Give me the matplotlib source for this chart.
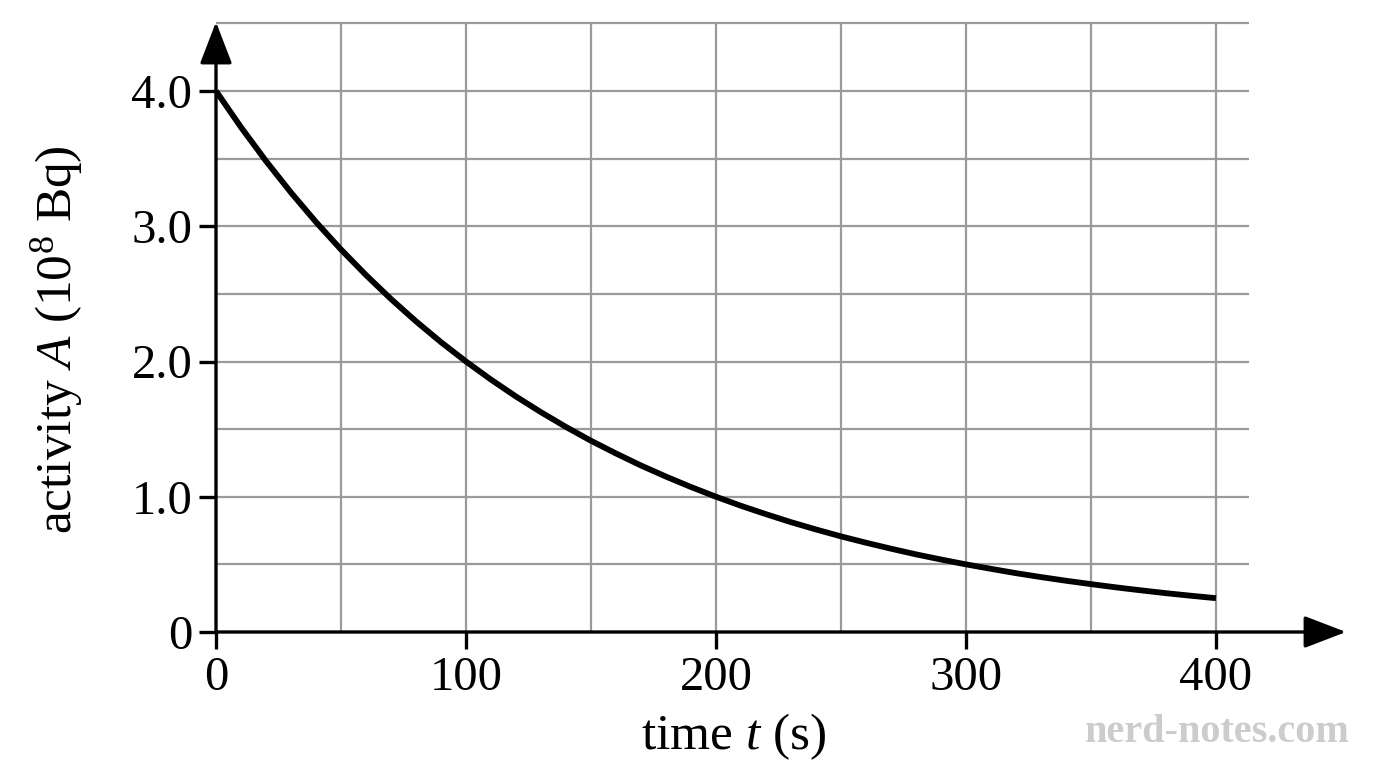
import matplotlib.pyplot as plt

plt.rcParams['font.family'] = ['Liberation Serif', 'DejaVu Serif']
plt.rcParams['mathtext.fontset'] = 'custom'
plt.rcParams['mathtext.rm'] = 'Liberation Serif'
plt.rcParams['mathtext.it'] = 'Liberation Serif:italic'

# activity every 10 s
time_s = [0, 10, 20, 30, 40, 50, 60, 70, 80, 90, 100, 110, 120, 130, 140, 150, 160, 170, 180,
          190, 200, 210, 220, 230, 240, 250, 260, 270, 280, 290, 300, 310, 320, 330, 340, 350,
          360, 370, 380, 390, 400]
activity = [4.0, 3.732, 3.482, 3.249, 3.031, 2.828, 2.639, 2.462, 2.297, 2.143, 2.0, 1.866,
            1.741, 1.625, 1.516, 1.414, 1.320, 1.231, 1.149, 1.072, 1.0, 0.933, 0.871, 0.812,
            0.758, 0.707, 0.660, 0.616, 0.574, 0.536, 0.5, 0.467, 0.435, 0.406, 0.379, 0.354,
            0.330, 0.308, 0.287, 0.268, 0.25]

x_ticks = [0, 100, 200, 300, 400]
x_ticklabels = ['0', '100', '200', '300', '400']
y_ticks = [0, 1, 2, 3, 4]
y_ticklabels = ['0', '1.0', '2.0', '3.0', '4.0']
x_grid = [50, 100, 150, 200, 250, 300, 350, 400]
y_grid = [0.5, 1.0, 1.5, 2.0, 2.5, 3.0, 3.5, 4.0, 4.5]

fig = plt.figure(figsize=(13.76, 7.68), dpi=100)
ax = fig.add_axes([216 / 1376, 136 / 768, 460 * 2.5 / 1376, 4.6 * 135.25 / 768])
ax.set_xlim(0, 460)
ax.set_ylim(0, 4.6)

grid_col = '#9a9a9a'
ax.hlines(y_grid, 0, 413, color=grid_col, lw=1.6, zorder=1)
ax.vlines(x_grid, 0, 4.5, color=grid_col, lw=1.6, zorder=1)

ax.plot(time_s, activity, color='black', lw=4.2, solid_capstyle='butt', zorder=3)

# axes with arrows
head = '-|>,head_length=2.6,head_width=1.0'
ax.annotate('', xy=(452, 0), xytext=(0, 0), annotation_clip=False,
            arrowprops=dict(arrowstyle=head, color='black', lw=2.4, shrinkA=0, shrinkB=0),
            zorder=4)
ax.annotate('', xy=(0, 4.51), xytext=(0, 0), annotation_clip=False,
            arrowprops=dict(arrowstyle=head, color='black', lw=2.4, shrinkA=0, shrinkB=0),
            zorder=4)

for s in ax.spines.values():
    s.set_visible(False)

ax.set_xticks(x_ticks)
ax.set_xticklabels(x_ticklabels)
ax.set_yticks(y_ticks)
ax.set_yticklabels(y_ticklabels)
ax.tick_params(direction='out', length=12, width=2.4, labelsize=35, color='black', pad=5)

ax.set_xlabel('time $\\it{t}$ (s)', fontsize=37)
ax.set_ylabel('activity $\\it{A}$ (10$^8$ Bq)', fontsize=37)
ax.xaxis.set_label_coords(0.45, -0.128)
ax.yaxis.set_label_coords(-0.114, 0.47)

fig.text(1350 / 1376, 1 - 732 / 768, 'nerd-notes.com', ha='right', va='center',
         fontsize=29, color='#cccccc', fontweight='bold')

fig.savefig('out.png', dpi=100)
